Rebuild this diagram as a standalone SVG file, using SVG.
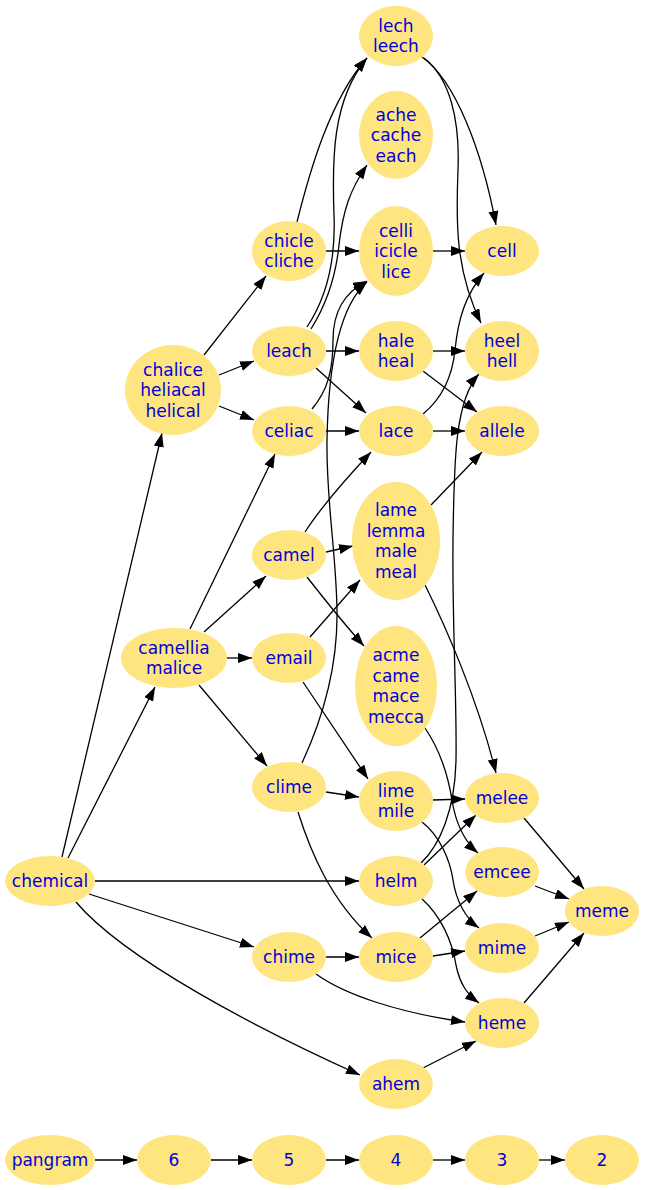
<svg xmlns="http://www.w3.org/2000/svg" width="646" height="1190" viewBox="0 0 646 1190">
<style>
.n ellipse{fill:#ffe57f;stroke:none}
.n text{font-family:"DejaVu Sans","Liberation Sans",sans-serif;font-size:17px;fill:#0000dd;text-anchor:middle}
#edges path{fill:none;stroke:#000;stroke-width:1.3;marker-end:url(#a)}
</style>
<defs>
<marker id="a" markerWidth="15" markerHeight="11" refX="14" refY="5" orient="auto" markerUnits="userSpaceOnUse"><path d="M0,0 L14,5 L0,10 z" fill="#000"/></marker>
</defs>
<rect width="646" height="1190" fill="#fff"/>
<g id="edges">
<path d="M62,857 L162,433"/>
<path d="M68,858 L155,687"/>
<path d="M95,881 L359,881"/>
<path d="M89,894 L254,947"/>
<path d="M76,902 C125,960 260,1030 360,1075"/>
<path d="M204,355 L266,276"/>
<path d="M219,375 L254,361"/>
<path d="M219,406 L254,420"/>
<path d="M190,629 L275,454"/>
<path d="M204,632 L266,576"/>
<path d="M227,658 L252,658"/>
<path d="M199,685 L267,766"/>
<path d="M297,222 C310,170 330,100 367,58"/>
<path d="M326,251 L359,251"/>
<path d="M307,327 C325,300 336,265 334,215 C332,160 332,100 367,58"/>
<path d="M311,329 C326,305 336,275 339,245 C343,210 350,190 367,165"/>
<path d="M326,351 L359,351"/>
<path d="M316,368 L366,413"/>
<path d="M326,431 L359,431"/>
<path d="M312,409 C328,390 333,370 333,340 C333,310 345,292 367,281"/>
<path d="M302,763 C322,720 338,670 337,610 C336,550 326,500 327,440 C328,380 335,310 367,282"/>
<path d="M422,57 C455,80 482,150 496,225"/>
<path d="M424,58 C450,78 460,120 458,170 C456,220 455,270 481,323"/>
<path d="M433,251 L465,251"/>
<path d="M433,351 L465,351"/>
<path d="M423,371 L477,412"/>
<path d="M433,431 L465,431"/>
<path d="M423,414 C440,400 452,380 455,350 C458,320 465,295 484,273"/>
<path d="M421,863 C440,845 455,810 456,760 C457,700 452,620 453,540 C454,460 455,400 479,374"/>
<path d="M424,865 L476,815"/>
<path d="M422,899 C440,915 452,940 456,965 C460,985 468,995 479,1003"/>
<path d="M433,800 L465,799"/>
<path d="M422,822 C440,836 450,860 453,880 C456,900 465,918 479,928"/>
<path d="M425,728 C440,750 448,775 452,800 C456,825 465,842 478,853"/>
<path d="M420,938 L477,891"/>
<path d="M433,956 L465,951"/>
<path d="M326,957 L359,957"/>
<path d="M316,974 C345,995 400,1013 465,1022"/>
<path d="M423,1068 L476,1041"/>
<path d="M524,818 L584,889"/>
<path d="M535,886 L569,899"/>
<path d="M535,936 L569,922"/>
<path d="M524,1003 L584,933"/>
<path d="M305,532 C318,512 340,485 371,452"/>
<path d="M326,552 L353,546"/>
<path d="M307,577 C325,600 345,625 364,646"/>
<path d="M310,637 L360,580"/>
<path d="M303,682 L368,779"/>
<path d="M326,792 L359,797"/>
<path d="M298,812 C310,850 330,900 372,938"/>
<path d="M431,505 L482,452"/>
<path d="M425,585 C445,625 478,700 496,773"/>
<path d="M95,1160 L137,1160"/>
<path d="M211,1160 L252,1160"/>
<path d="M326,1160 L359,1160"/>
<path d="M433,1160 L465,1160"/>
<path d="M539,1160 L565,1160"/>
</g>
<g id="lech" class="n"><ellipse cx="396" cy="36" rx="37" ry="30"/><text x="396" y="31.75">lech</text><text x="396" y="52.25">leech</text></g>
<g id="ache" class="n"><ellipse cx="396" cy="135" rx="37" ry="44"/><text x="396" y="120.5">ache</text><text x="396" y="141">cache</text><text x="396" y="161.5">each</text></g>
<g id="celli" class="n"><ellipse cx="396" cy="251" rx="37" ry="45"/><text x="396" y="236.5">celli</text><text x="396" y="257">icicle</text><text x="396" y="277.5">lice</text></g>
<g id="cell" class="n"><ellipse cx="502" cy="251" rx="37" ry="25"/><text x="502" y="257">cell</text></g>
<g id="chicle" class="n"><ellipse cx="289" cy="251" rx="37" ry="30"/><text x="289" y="246.75">chicle</text><text x="289" y="267.25">cliche</text></g>
<g id="leach" class="n"><ellipse cx="289" cy="351" rx="37" ry="25"/><text x="289" y="357">leach</text></g>
<g id="hale" class="n"><ellipse cx="396" cy="351" rx="37" ry="30"/><text x="396" y="346.75">hale</text><text x="396" y="367.25">heal</text></g>
<g id="heel" class="n"><ellipse cx="502" cy="351" rx="37" ry="30"/><text x="502" y="346.75">heel</text><text x="502" y="367.25">hell</text></g>
<g id="celiac" class="n"><ellipse cx="289" cy="431" rx="37" ry="25"/><text x="289" y="437">celiac</text></g>
<g id="lace" class="n"><ellipse cx="396" cy="431" rx="37" ry="25"/><text x="396" y="437">lace</text></g>
<g id="allele" class="n"><ellipse cx="502" cy="431" rx="37" ry="25"/><text x="502" y="437">allele</text></g>
<g id="lame" class="n"><ellipse cx="396" cy="541" rx="44" ry="59"/><text x="396" y="516.25">lame</text><text x="396" y="536.75">lemma</text><text x="396" y="557.25">male</text><text x="396" y="577.75">meal</text></g>
<g id="camel" class="n"><ellipse cx="289" cy="555" rx="37" ry="25"/><text x="289" y="561">camel</text></g>
<g id="chalice" class="n"><ellipse cx="173" cy="390" rx="48" ry="45"/><text x="173" y="375.5">chalice</text><text x="173" y="396">heliacal</text><text x="173" y="416.5">helical</text></g>
<g id="camellia" class="n"><ellipse cx="174" cy="658" rx="53" ry="30"/><text x="174" y="653.75">camellia</text><text x="174" y="674.25">malice</text></g>
<g id="email" class="n"><ellipse cx="289" cy="658" rx="37" ry="25"/><text x="289" y="664">email</text></g>
<g id="acme" class="n"><ellipse cx="396" cy="686" rx="41" ry="60"/><text x="396" y="661.25">acme</text><text x="396" y="681.75">came</text><text x="396" y="702.25">mace</text><text x="396" y="722.75">mecca</text></g>
<g id="clime" class="n"><ellipse cx="289" cy="787" rx="37" ry="25"/><text x="289" y="793">clime</text></g>
<g id="lime" class="n"><ellipse cx="396" cy="801" rx="37" ry="30"/><text x="396" y="796.75">lime</text><text x="396" y="817.25">mile</text></g>
<g id="melee" class="n"><ellipse cx="502" cy="798" rx="37" ry="25"/><text x="502" y="804">melee</text></g>
<g id="chemical" class="n"><ellipse cx="50" cy="881" rx="45" ry="25"/><text x="50" y="887">chemical</text></g>
<g id="helm" class="n"><ellipse cx="396" cy="881" rx="37" ry="25"/><text x="396" y="887">helm</text></g>
<g id="emcee" class="n"><ellipse cx="502" cy="872" rx="37" ry="25"/><text x="502" y="878">emcee</text></g>
<g id="meme" class="n"><ellipse cx="602" cy="911" rx="37" ry="25"/><text x="602" y="917">meme</text></g>
<g id="chime" class="n"><ellipse cx="289" cy="957" rx="37" ry="25"/><text x="289" y="963">chime</text></g>
<g id="mice" class="n"><ellipse cx="396" cy="957" rx="37" ry="25"/><text x="396" y="963">mice</text></g>
<g id="mime" class="n"><ellipse cx="502" cy="948" rx="37" ry="25"/><text x="502" y="954">mime</text></g>
<g id="heme" class="n"><ellipse cx="502" cy="1023" rx="37" ry="25"/><text x="502" y="1029">heme</text></g>
<g id="ahem" class="n"><ellipse cx="396" cy="1084" rx="37" ry="25"/><text x="396" y="1090">ahem</text></g>
<g id="pangram" class="n"><ellipse cx="50" cy="1160" rx="45" ry="25"/><text x="50" y="1166">pangram</text></g>
<g id="n6" class="n"><ellipse cx="174" cy="1160" rx="37" ry="25"/><text x="174" y="1166">6</text></g>
<g id="n5" class="n"><ellipse cx="289" cy="1160" rx="37" ry="25"/><text x="289" y="1166">5</text></g>
<g id="n4" class="n"><ellipse cx="396" cy="1160" rx="37" ry="25"/><text x="396" y="1166">4</text></g>
<g id="n3" class="n"><ellipse cx="502" cy="1160" rx="37" ry="25"/><text x="502" y="1166">3</text></g>
<g id="n2" class="n"><ellipse cx="602" cy="1160" rx="37" ry="25"/><text x="602" y="1166">2</text></g>
</svg>
